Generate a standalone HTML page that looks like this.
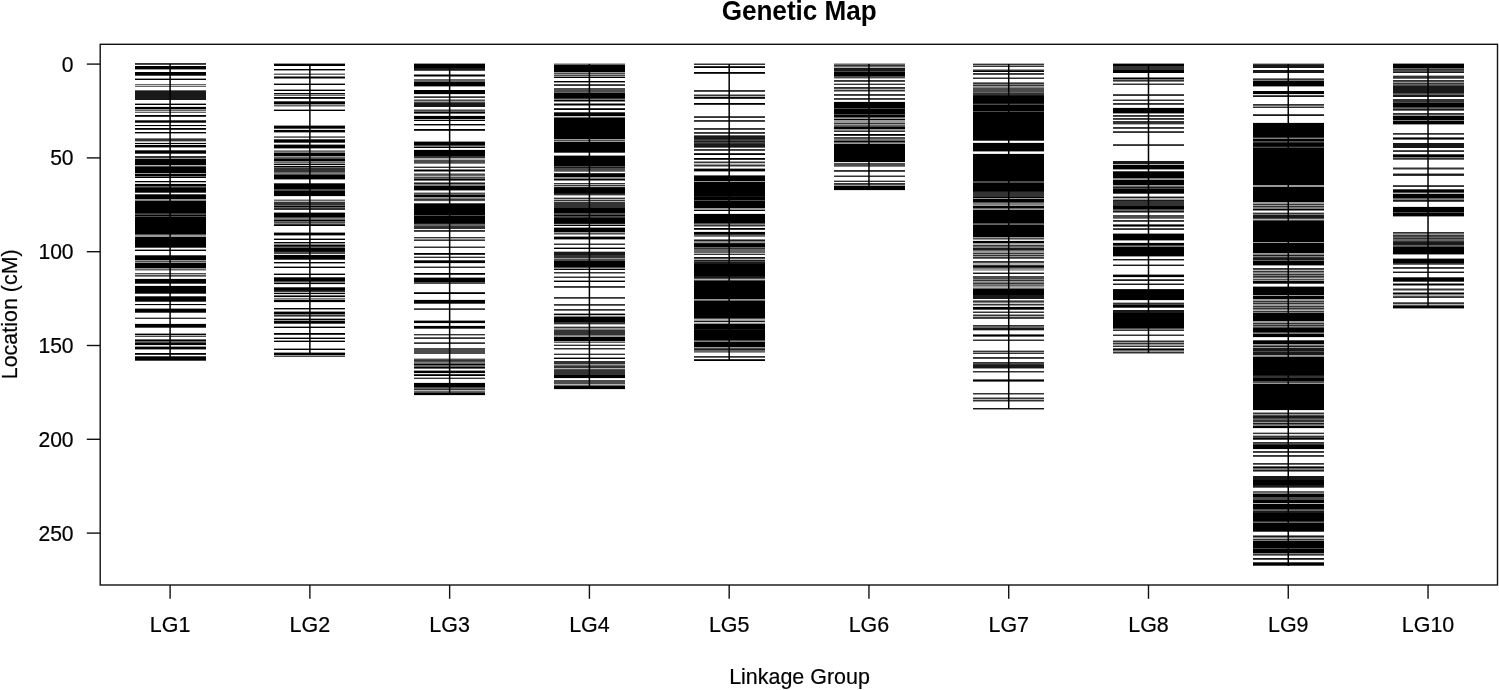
<!DOCTYPE html>
<html><head><meta charset="utf-8"><title>Genetic Map</title>
<style>
html,body{margin:0;padding:0;background:#fff;}
body{width:1499px;height:690px;position:relative;overflow:hidden;font-family:"Liberation Sans",sans-serif;}
.t{font-family:"Liberation Sans",sans-serif;font-size:21.45px;fill:#000;stroke:#000;stroke-width:.2px;}
.y{font-size:21.1px;}
.h{font-family:"Liberation Sans",sans-serif;font-size:26.1px;font-weight:bold;fill:#000;}
</style></head><body>
<svg width="1499" height="690" viewBox="0 0 1499 690" style="position:absolute;left:0;top:0">
<rect width="100%" height="100%" fill="#fff"/>
<rect x="100.2" y="44.3" width="1397.3" height="540.7" fill="none" stroke="#111" stroke-width="1.4"/>
<line x1="86.8" y1="64.10" x2="100" y2="64.10" stroke="#111" stroke-width="1.4"/>
<text transform="translate(73.60,71.60) scale(1,1.05)" text-anchor="end" class="t y">0</text>
<line x1="86.8" y1="157.90" x2="100" y2="157.90" stroke="#111" stroke-width="1.4"/>
<text transform="translate(73.60,165.40) scale(1,1.05)" text-anchor="end" class="t y">50</text>
<line x1="86.8" y1="251.70" x2="100" y2="251.70" stroke="#111" stroke-width="1.4"/>
<text transform="translate(73.60,259.20) scale(1,1.05)" text-anchor="end" class="t y">100</text>
<line x1="86.8" y1="345.50" x2="100" y2="345.50" stroke="#111" stroke-width="1.4"/>
<text transform="translate(73.60,353.00) scale(1,1.05)" text-anchor="end" class="t y">150</text>
<line x1="86.8" y1="439.30" x2="100" y2="439.30" stroke="#111" stroke-width="1.4"/>
<text transform="translate(73.60,446.80) scale(1,1.05)" text-anchor="end" class="t y">200</text>
<line x1="86.8" y1="533.10" x2="100" y2="533.10" stroke="#111" stroke-width="1.4"/>
<text transform="translate(73.60,540.60) scale(1,1.05)" text-anchor="end" class="t y">250</text>
<line x1="170.10" y1="585" x2="170.10" y2="598.8" stroke="#111" stroke-width="1.4"/>
<text transform="translate(170.10,632.30) scale(1,1.05)" text-anchor="middle" class="t">LG1</text>
<line x1="309.87" y1="585" x2="309.87" y2="598.8" stroke="#111" stroke-width="1.4"/>
<text transform="translate(309.87,632.30) scale(1,1.05)" text-anchor="middle" class="t">LG2</text>
<line x1="449.64" y1="585" x2="449.64" y2="598.8" stroke="#111" stroke-width="1.4"/>
<text transform="translate(449.64,632.30) scale(1,1.05)" text-anchor="middle" class="t">LG3</text>
<line x1="589.41" y1="585" x2="589.41" y2="598.8" stroke="#111" stroke-width="1.4"/>
<text transform="translate(589.41,632.30) scale(1,1.05)" text-anchor="middle" class="t">LG4</text>
<line x1="729.18" y1="585" x2="729.18" y2="598.8" stroke="#111" stroke-width="1.4"/>
<text transform="translate(729.18,632.30) scale(1,1.05)" text-anchor="middle" class="t">LG5</text>
<line x1="868.95" y1="585" x2="868.95" y2="598.8" stroke="#111" stroke-width="1.4"/>
<text transform="translate(868.95,632.30) scale(1,1.05)" text-anchor="middle" class="t">LG6</text>
<line x1="1008.72" y1="585" x2="1008.72" y2="598.8" stroke="#111" stroke-width="1.4"/>
<text transform="translate(1008.72,632.30) scale(1,1.05)" text-anchor="middle" class="t">LG7</text>
<line x1="1148.49" y1="585" x2="1148.49" y2="598.8" stroke="#111" stroke-width="1.4"/>
<text transform="translate(1148.49,632.30) scale(1,1.05)" text-anchor="middle" class="t">LG8</text>
<line x1="1288.26" y1="585" x2="1288.26" y2="598.8" stroke="#111" stroke-width="1.4"/>
<text transform="translate(1288.26,632.30) scale(1,1.05)" text-anchor="middle" class="t">LG9</text>
<line x1="1428.03" y1="585" x2="1428.03" y2="598.8" stroke="#111" stroke-width="1.4"/>
<text transform="translate(1428.03,632.30) scale(1,1.05)" text-anchor="middle" class="t">LG10</text>
<text transform="translate(799.50,684.10) scale(1,1.05)" text-anchor="middle" class="t">Linkage Group</text>
<text transform="translate(16.50,314.30) rotate(-90) scale(1,1.05)" text-anchor="middle" class="t">Location (cM)</text>
<text transform="translate(799.20,20.30) scale(1,1.05)" text-anchor="middle" class="h">Genetic Map</text>
<line x1="170.10" y1="64.00" x2="170.10" y2="360.00" stroke="#000" stroke-width="1.5"/>
<line x1="309.87" y1="64.00" x2="309.87" y2="355.00" stroke="#000" stroke-width="1.5"/>
<line x1="449.64" y1="64.00" x2="449.64" y2="394.00" stroke="#000" stroke-width="1.5"/>
<line x1="589.41" y1="64.00" x2="589.41" y2="388.00" stroke="#000" stroke-width="1.5"/>
<line x1="729.18" y1="64.00" x2="729.18" y2="360.00" stroke="#000" stroke-width="1.5"/>
<line x1="868.95" y1="64.00" x2="868.95" y2="189.00" stroke="#000" stroke-width="1.5"/>
<line x1="1008.72" y1="64.00" x2="1008.72" y2="409.00" stroke="#000" stroke-width="1.5"/>
<line x1="1148.49" y1="64.00" x2="1148.49" y2="353.00" stroke="#000" stroke-width="1.5"/>
<line x1="1288.26" y1="64.00" x2="1288.26" y2="566.00" stroke="#000" stroke-width="1.5"/>
<line x1="1428.03" y1="64.00" x2="1428.03" y2="307.00" stroke="#000" stroke-width="1.5"/>
<path d="M134.6 106.5h71.0M134.6 126.5h71.0M134.6 142.5h71.0M134.6 144.5h71.0M134.6 183.5h71.0M134.6 278.5h71.0M134.6 285.5h71.0M134.6 305.5h71.0M134.6 323.5h71.0M134.6 345.5h71.0" stroke="#000" stroke-opacity="0.1" stroke-width="1" fill="none" shape-rendering="crispEdges"/>
<path d="M134.6 85.5h71.0M134.6 111.5h71.0" stroke="#000" stroke-opacity="0.2" stroke-width="1" fill="none" shape-rendering="crispEdges"/>
<path d="M134.6 141.5h71.0M134.6 165.5h71.0M134.6 182.5h71.0M134.6 270.5h71.0M134.6 274.5h71.0M134.6 317.5h71.0M134.6 335.5h71.0" stroke="#000" stroke-opacity="0.3" stroke-width="1" fill="none" shape-rendering="crispEdges"/>
<path d="M134.6 69.5h71.0M134.6 78.5h71.0M134.6 103.5h71.0M134.6 109.5h71.0M134.6 133.5h71.0M134.6 147.5h71.0M134.6 158.5h71.0M134.6 173.5h71.0M134.6 199.5h71.0M134.6 235.5h71.0M134.6 236.5h71.0M134.6 249.5h71.0M134.6 260.5h71.0M134.6 262.5h71.0M134.6 268.5h71.0M134.6 308.5h71.0M134.6 333.5h71.0M134.6 346.5h71.0M134.6 349.5h71.0" stroke="#000" stroke-opacity="0.4" stroke-width="1" fill="none" shape-rendering="crispEdges"/>
<path d="M134.6 138.5h71.0M134.6 200.5h71.0M134.6 276.5h71.0" stroke="#000" stroke-opacity="0.5" stroke-width="1" fill="none" shape-rendering="crispEdges"/>
<path d="M134.6 84.5h71.0M134.6 86.5h71.0M134.6 90.5h71.0M134.6 110.5h71.0M134.6 112.5h71.0M134.6 176.5h71.0M134.6 186.5h71.0M134.6 269.5h71.0M134.6 339.5h71.0M134.6 341.5h71.0" stroke="#000" stroke-opacity="0.6" stroke-width="1" fill="none" shape-rendering="crispEdges"/>
<path d="M134.6 64.5h71.0M134.6 75.5h71.0M134.6 120.5h71.0M134.6 122.5h71.0M134.6 150.5h71.0M134.6 153.5h71.0M134.6 166.5h71.0M134.6 192.5h71.0M134.6 194.5h71.0M134.6 214.5h71.0M134.6 216.5h71.0M134.6 234.5h71.0M134.6 247.5h71.0M134.6 255.5h71.0M134.6 261.5h71.0M134.6 273.5h71.0M134.6 275.5h71.0M134.6 283.5h71.0M134.6 293.5h71.0M134.6 296.5h71.0M134.6 301.5h71.0M134.6 312.5h71.0M134.6 327.5h71.0M134.6 336.5h71.0M134.6 342.5h71.0M134.6 356.5h71.0M134.6 360.5h71.0" stroke="#000" stroke-opacity="0.7" stroke-width="1" fill="none" shape-rendering="crispEdges"/>
<path d="M134.6 63.5h71.0M134.6 116.5h71.0M134.6 129.5h71.0M134.6 139.5h71.0M134.6 140.5h71.0M134.6 156.5h71.0M134.6 157.5h71.0M134.6 187.5h71.0M134.6 213.5h71.0M134.6 318.5h71.0M134.6 354.5h71.0" stroke="#000" stroke-opacity="0.8" stroke-width="1" fill="none" shape-rendering="crispEdges"/>
<path d="M134.6 91.5h71.0M134.6 92.5h71.0M134.6 93.5h71.0M134.6 94.5h71.0M134.6 95.5h71.0M134.6 96.5h71.0M134.6 97.5h71.0M134.6 98.5h71.0M134.6 99.5h71.0" stroke="#000" stroke-opacity="0.9" stroke-width="1" fill="none" shape-rendering="crispEdges"/>
<path d="M134.6 66.5h71.0M134.6 67.5h71.0M134.6 68.5h71.0M134.6 72.5h71.0M134.6 73.5h71.0M134.6 74.5h71.0M134.6 79.5h71.0M134.6 104.5h71.0M134.6 107.5h71.0M134.6 108.5h71.0M134.6 115.5h71.0M134.6 121.5h71.0M134.6 125.5h71.0M134.6 128.5h71.0M134.6 132.5h71.0M134.6 143.5h71.0M134.6 145.5h71.0M134.6 146.5h71.0M134.6 151.5h71.0M134.6 152.5h71.0M134.6 159.5h71.0M134.6 160.5h71.0M134.6 161.5h71.0M134.6 162.5h71.0M134.6 163.5h71.0M134.6 164.5h71.0M134.6 167.5h71.0M134.6 168.5h71.0M134.6 169.5h71.0M134.6 170.5h71.0M134.6 171.5h71.0M134.6 172.5h71.0M134.6 174.5h71.0M134.6 175.5h71.0M134.6 177.5h71.0M134.6 181.5h71.0M134.6 184.5h71.0M134.6 185.5h71.0M134.6 188.5h71.0M134.6 189.5h71.0M134.6 190.5h71.0M134.6 191.5h71.0M134.6 195.5h71.0M134.6 196.5h71.0M134.6 197.5h71.0M134.6 198.5h71.0M134.6 201.5h71.0M134.6 202.5h71.0M134.6 203.5h71.0M134.6 204.5h71.0M134.6 205.5h71.0M134.6 206.5h71.0M134.6 207.5h71.0M134.6 208.5h71.0M134.6 209.5h71.0M134.6 210.5h71.0M134.6 211.5h71.0M134.6 212.5h71.0M134.6 215.5h71.0M134.6 217.5h71.0M134.6 218.5h71.0M134.6 219.5h71.0M134.6 220.5h71.0M134.6 221.5h71.0M134.6 222.5h71.0M134.6 223.5h71.0M134.6 224.5h71.0M134.6 225.5h71.0M134.6 226.5h71.0M134.6 227.5h71.0M134.6 228.5h71.0M134.6 229.5h71.0M134.6 230.5h71.0M134.6 231.5h71.0M134.6 232.5h71.0M134.6 233.5h71.0M134.6 237.5h71.0M134.6 238.5h71.0M134.6 239.5h71.0M134.6 240.5h71.0M134.6 241.5h71.0M134.6 242.5h71.0M134.6 243.5h71.0M134.6 244.5h71.0M134.6 245.5h71.0M134.6 246.5h71.0M134.6 250.5h71.0M134.6 256.5h71.0M134.6 257.5h71.0M134.6 258.5h71.0M134.6 259.5h71.0M134.6 263.5h71.0M134.6 264.5h71.0M134.6 265.5h71.0M134.6 266.5h71.0M134.6 267.5h71.0M134.6 279.5h71.0M134.6 280.5h71.0M134.6 281.5h71.0M134.6 282.5h71.0M134.6 286.5h71.0M134.6 287.5h71.0M134.6 288.5h71.0M134.6 289.5h71.0M134.6 290.5h71.0M134.6 291.5h71.0M134.6 292.5h71.0M134.6 297.5h71.0M134.6 298.5h71.0M134.6 299.5h71.0M134.6 300.5h71.0M134.6 304.5h71.0M134.6 309.5h71.0M134.6 310.5h71.0M134.6 311.5h71.0M134.6 324.5h71.0M134.6 325.5h71.0M134.6 326.5h71.0M134.6 334.5h71.0M134.6 340.5h71.0M134.6 343.5h71.0M134.6 344.5h71.0M134.6 347.5h71.0M134.6 348.5h71.0M134.6 353.5h71.0M134.6 357.5h71.0M134.6 358.5h71.0M134.6 359.5h71.0" stroke="#000" stroke-opacity="1.0" stroke-width="1" fill="none" shape-rendering="crispEdges"/>
<path d="M274.4 129.5h71.0M274.4 165.5h71.0M274.4 196.5h71.0M274.4 254.5h71.0M274.4 284.5h71.0M274.4 294.5h71.0M274.4 297.5h71.0M274.4 302.5h71.0" stroke="#000" stroke-opacity="0.1" stroke-width="1" fill="none" shape-rendering="crispEdges"/>
<path d="M274.4 73.5h71.0M274.4 106.5h71.0M274.4 199.5h71.0M274.4 201.5h71.0M274.4 292.5h71.0" stroke="#000" stroke-opacity="0.3" stroke-width="1" fill="none" shape-rendering="crispEdges"/>
<path d="M274.4 63.5h71.0M274.4 70.5h71.0M274.4 83.5h71.0M274.4 89.5h71.0M274.4 94.5h71.0M274.4 104.5h71.0M274.4 109.5h71.0M274.4 125.5h71.0M274.4 132.5h71.0M274.4 144.5h71.0M274.4 148.5h71.0M274.4 150.5h71.0M274.4 156.5h71.0M274.4 163.5h71.0M274.4 179.5h71.0M274.4 212.5h71.0M274.4 232.5h71.0M274.4 235.5h71.0M274.4 238.5h71.0M274.4 243.5h71.0M274.4 263.5h71.0M274.4 266.5h71.0M274.4 273.5h71.0M274.4 299.5h71.0M274.4 309.5h71.0M274.4 311.5h71.0M274.4 318.5h71.0M274.4 320.5h71.0M274.4 326.5h71.0M274.4 337.5h71.0M274.4 340.5h71.0M274.4 348.5h71.0M274.4 352.5h71.0M274.4 355.5h71.0" stroke="#000" stroke-opacity="0.4" stroke-width="1" fill="none" shape-rendering="crispEdges"/>
<path d="M274.4 76.5h71.0M274.4 78.5h71.0M274.4 136.5h71.0M274.4 152.5h71.0M274.4 161.5h71.0M274.4 173.5h71.0M274.4 218.5h71.0M274.4 223.5h71.0M274.4 244.5h71.0M274.4 282.5h71.0M274.4 298.5h71.0M274.4 314.5h71.0M274.4 316.5h71.0" stroke="#000" stroke-opacity="0.5" stroke-width="1" fill="none" shape-rendering="crispEdges"/>
<path d="M274.4 74.5h71.0M274.4 95.5h71.0M274.4 105.5h71.0M274.4 137.5h71.0M274.4 151.5h71.0M274.4 157.5h71.0M274.4 162.5h71.0M274.4 167.5h71.0M274.4 172.5h71.0M274.4 200.5h71.0M274.4 205.5h71.0M274.4 207.5h71.0M274.4 219.5h71.0M274.4 221.5h71.0M274.4 247.5h71.0M274.4 295.5h71.0" stroke="#000" stroke-opacity="0.6" stroke-width="1" fill="none" shape-rendering="crispEdges"/>
<path d="M274.4 101.5h71.0M274.4 128.5h71.0M274.4 139.5h71.0M274.4 142.5h71.0M274.4 158.5h71.0M274.4 174.5h71.0M274.4 183.5h71.0M274.4 189.5h71.0M274.4 190.5h71.0M274.4 217.5h71.0M274.4 222.5h71.0M274.4 252.5h71.0M274.4 253.5h71.0M274.4 259.5h71.0M274.4 277.5h71.0M274.4 281.5h71.0M274.4 287.5h71.0M274.4 323.5h71.0M274.4 356.5h71.0" stroke="#000" stroke-opacity="0.7" stroke-width="1" fill="none" shape-rendering="crispEdges"/>
<path d="M274.4 98.5h71.0M274.4 168.5h71.0M274.4 169.5h71.0M274.4 170.5h71.0M274.4 171.5h71.0M274.4 202.5h71.0M274.4 203.5h71.0M274.4 204.5h71.0M274.4 208.5h71.0M274.4 209.5h71.0M274.4 224.5h71.0M274.4 246.5h71.0M274.4 291.5h71.0M274.4 315.5h71.0M274.4 334.5h71.0" stroke="#000" stroke-opacity="0.8" stroke-width="1" fill="none" shape-rendering="crispEdges"/>
<path d="M274.4 251.5h71.0M274.4 290.5h71.0" stroke="#000" stroke-opacity="0.9" stroke-width="1" fill="none" shape-rendering="crispEdges"/>
<path d="M274.4 64.5h71.0M274.4 65.5h71.0M274.4 69.5h71.0M274.4 77.5h71.0M274.4 84.5h71.0M274.4 90.5h71.0M274.4 93.5h71.0M274.4 97.5h71.0M274.4 102.5h71.0M274.4 103.5h71.0M274.4 110.5h71.0M274.4 126.5h71.0M274.4 127.5h71.0M274.4 130.5h71.0M274.4 131.5h71.0M274.4 140.5h71.0M274.4 141.5h71.0M274.4 145.5h71.0M274.4 146.5h71.0M274.4 147.5h71.0M274.4 153.5h71.0M274.4 154.5h71.0M274.4 155.5h71.0M274.4 159.5h71.0M274.4 160.5h71.0M274.4 164.5h71.0M274.4 166.5h71.0M274.4 175.5h71.0M274.4 176.5h71.0M274.4 177.5h71.0M274.4 178.5h71.0M274.4 184.5h71.0M274.4 185.5h71.0M274.4 186.5h71.0M274.4 187.5h71.0M274.4 188.5h71.0M274.4 191.5h71.0M274.4 192.5h71.0M274.4 193.5h71.0M274.4 194.5h71.0M274.4 195.5h71.0M274.4 206.5h71.0M274.4 213.5h71.0M274.4 214.5h71.0M274.4 215.5h71.0M274.4 216.5h71.0M274.4 220.5h71.0M274.4 225.5h71.0M274.4 233.5h71.0M274.4 234.5h71.0M274.4 239.5h71.0M274.4 242.5h71.0M274.4 245.5h71.0M274.4 248.5h71.0M274.4 249.5h71.0M274.4 250.5h71.0M274.4 255.5h71.0M274.4 256.5h71.0M274.4 257.5h71.0M274.4 258.5h71.0M274.4 262.5h71.0M274.4 267.5h71.0M274.4 274.5h71.0M274.4 278.5h71.0M274.4 279.5h71.0M274.4 280.5h71.0M274.4 283.5h71.0M274.4 288.5h71.0M274.4 289.5h71.0M274.4 293.5h71.0M274.4 296.5h71.0M274.4 300.5h71.0M274.4 301.5h71.0M274.4 308.5h71.0M274.4 312.5h71.0M274.4 313.5h71.0M274.4 319.5h71.0M274.4 321.5h71.0M274.4 322.5h71.0M274.4 327.5h71.0M274.4 333.5h71.0M274.4 338.5h71.0M274.4 341.5h71.0M274.4 349.5h71.0M274.4 353.5h71.0M274.4 354.5h71.0" stroke="#000" stroke-opacity="1.0" stroke-width="1" fill="none" shape-rendering="crispEdges"/>
<path d="M414.1 94.5h71.0M414.1 115.5h71.0M414.1 149.5h71.0M414.1 201.5h71.0M414.1 263.5h71.0M414.1 299.5h71.0M414.1 323.5h71.0M414.1 325.5h71.0M414.1 373.5h71.0M414.1 382.5h71.0M414.1 395.5h71.0" stroke="#000" stroke-opacity="0.1" stroke-width="1" fill="none" shape-rendering="crispEdges"/>
<path d="M414.1 119.5h71.0M414.1 158.5h71.0M414.1 159.5h71.0M414.1 166.5h71.0M414.1 176.5h71.0M414.1 192.5h71.0M414.1 238.5h71.0M414.1 256.5h71.0M414.1 335.5h71.0M414.1 358.5h71.0M414.1 377.5h71.0M414.1 390.5h71.0" stroke="#000" stroke-opacity="0.3" stroke-width="1" fill="none" shape-rendering="crispEdges"/>
<path d="M414.1 63.5h71.0M414.1 86.5h71.0M414.1 99.5h71.0M414.1 101.5h71.0M414.1 109.5h71.0M414.1 125.5h71.0M414.1 141.5h71.0M414.1 173.5h71.0M414.1 190.5h71.0M414.1 197.5h71.0M414.1 246.5h71.0M414.1 266.5h71.0M414.1 277.5h71.0M414.1 320.5h71.0M414.1 370.5h71.0" stroke="#000" stroke-opacity="0.4" stroke-width="1" fill="none" shape-rendering="crispEdges"/>
<path d="M414.1 74.5h71.0M414.1 76.5h71.0M414.1 146.5h71.0M414.1 163.5h71.0M414.1 169.5h71.0M414.1 171.5h71.0M414.1 182.5h71.0M414.1 184.5h71.0M414.1 185.5h71.0M414.1 198.5h71.0M414.1 239.5h71.0M414.1 362.5h71.0" stroke="#000" stroke-opacity="0.5" stroke-width="1" fill="none" shape-rendering="crispEdges"/>
<path d="M414.1 79.5h71.0M414.1 80.5h71.0M414.1 81.5h71.0M414.1 96.5h71.0M414.1 111.5h71.0M414.1 113.5h71.0M414.1 175.5h71.0M414.1 178.5h71.0M414.1 180.5h71.0M414.1 194.5h71.0M414.1 224.5h71.0M414.1 225.5h71.0M414.1 308.5h71.0M414.1 337.5h71.0M414.1 342.5h71.0M414.1 363.5h71.0M414.1 365.5h71.0M414.1 366.5h71.0M414.1 368.5h71.0M414.1 388.5h71.0M414.1 391.5h71.0" stroke="#000" stroke-opacity="0.6" stroke-width="1" fill="none" shape-rendering="crispEdges"/>
<path d="M414.1 70.5h71.0M414.1 100.5h71.0M414.1 102.5h71.0M414.1 110.5h71.0M414.1 145.5h71.0M414.1 160.5h71.0M414.1 161.5h71.0M414.1 162.5h71.0M414.1 174.5h71.0M414.1 177.5h71.0M414.1 193.5h71.0M414.1 200.5h71.0M414.1 203.5h71.0M414.1 215.5h71.0M414.1 231.5h71.0M414.1 260.5h71.0M414.1 282.5h71.0M414.1 283.5h71.0M414.1 303.5h71.0M414.1 328.5h71.0M414.1 348.5h71.0M414.1 349.5h71.0M414.1 350.5h71.0M414.1 351.5h71.0M414.1 352.5h71.0M414.1 353.5h71.0M414.1 359.5h71.0M414.1 361.5h71.0M414.1 387.5h71.0M414.1 392.5h71.0" stroke="#000" stroke-opacity="0.7" stroke-width="1" fill="none" shape-rendering="crispEdges"/>
<path d="M414.1 97.5h71.0M414.1 130.5h71.0M414.1 156.5h71.0M414.1 157.5h71.0M414.1 167.5h71.0M414.1 199.5h71.0M414.1 226.5h71.0M414.1 227.5h71.0M414.1 228.5h71.0M414.1 230.5h71.0M414.1 237.5h71.0M414.1 240.5h71.0M414.1 247.5h71.0M414.1 254.5h71.0M414.1 257.5h71.0M414.1 267.5h71.0M414.1 274.5h71.0M414.1 292.5h71.0M414.1 309.5h71.0M414.1 334.5h71.0M414.1 338.5h71.0M414.1 343.5h71.0M414.1 360.5h71.0M414.1 374.5h71.0M414.1 378.5h71.0M414.1 389.5h71.0" stroke="#000" stroke-opacity="0.8" stroke-width="1" fill="none" shape-rendering="crispEdges"/>
<path d="M414.1 68.5h71.0M414.1 69.5h71.0M414.1 103.5h71.0M414.1 104.5h71.0M414.1 105.5h71.0M414.1 106.5h71.0M414.1 183.5h71.0M414.1 223.5h71.0" stroke="#000" stroke-opacity="0.9" stroke-width="1" fill="none" shape-rendering="crispEdges"/>
<path d="M414.1 64.5h71.0M414.1 65.5h71.0M414.1 66.5h71.0M414.1 67.5h71.0M414.1 75.5h71.0M414.1 82.5h71.0M414.1 83.5h71.0M414.1 84.5h71.0M414.1 85.5h71.0M414.1 90.5h71.0M414.1 91.5h71.0M414.1 92.5h71.0M414.1 93.5h71.0M414.1 112.5h71.0M414.1 116.5h71.0M414.1 117.5h71.0M414.1 118.5h71.0M414.1 120.5h71.0M414.1 124.5h71.0M414.1 129.5h71.0M414.1 142.5h71.0M414.1 143.5h71.0M414.1 144.5h71.0M414.1 147.5h71.0M414.1 150.5h71.0M414.1 151.5h71.0M414.1 152.5h71.0M414.1 153.5h71.0M414.1 154.5h71.0M414.1 155.5h71.0M414.1 170.5h71.0M414.1 179.5h71.0M414.1 186.5h71.0M414.1 187.5h71.0M414.1 188.5h71.0M414.1 189.5h71.0M414.1 195.5h71.0M414.1 196.5h71.0M414.1 204.5h71.0M414.1 205.5h71.0M414.1 206.5h71.0M414.1 207.5h71.0M414.1 208.5h71.0M414.1 209.5h71.0M414.1 210.5h71.0M414.1 211.5h71.0M414.1 212.5h71.0M414.1 213.5h71.0M414.1 214.5h71.0M414.1 216.5h71.0M414.1 217.5h71.0M414.1 218.5h71.0M414.1 219.5h71.0M414.1 220.5h71.0M414.1 221.5h71.0M414.1 222.5h71.0M414.1 253.5h71.0M414.1 261.5h71.0M414.1 262.5h71.0M414.1 273.5h71.0M414.1 278.5h71.0M414.1 279.5h71.0M414.1 280.5h71.0M414.1 281.5h71.0M414.1 293.5h71.0M414.1 300.5h71.0M414.1 301.5h71.0M414.1 302.5h71.0M414.1 321.5h71.0M414.1 322.5h71.0M414.1 326.5h71.0M414.1 327.5h71.0M414.1 364.5h71.0M414.1 367.5h71.0M414.1 371.5h71.0M414.1 372.5h71.0M414.1 375.5h71.0M414.1 383.5h71.0M414.1 384.5h71.0M414.1 385.5h71.0M414.1 386.5h71.0M414.1 393.5h71.0M414.1 394.5h71.0" stroke="#000" stroke-opacity="1.0" stroke-width="1" fill="none" shape-rendering="crispEdges"/>
<path d="M553.9 378.5h71.0M553.9 389.5h71.0" stroke="#000" stroke-opacity="0.1" stroke-width="1" fill="none" shape-rendering="crispEdges"/>
<path d="M553.9 116.5h71.0M553.9 315.5h71.0" stroke="#000" stroke-opacity="0.2" stroke-width="1" fill="none" shape-rendering="crispEdges"/>
<path d="M553.9 63.5h71.0M553.9 184.5h71.0M553.9 186.5h71.0M553.9 195.5h71.0M553.9 197.5h71.0M553.9 199.5h71.0M553.9 201.5h71.0M553.9 251.5h71.0M553.9 324.5h71.0M553.9 326.5h71.0M553.9 344.5h71.0M553.9 353.5h71.0M553.9 368.5h71.0M553.9 384.5h71.0" stroke="#000" stroke-opacity="0.3" stroke-width="1" fill="none" shape-rendering="crispEdges"/>
<path d="M553.9 72.5h71.0M553.9 74.5h71.0M553.9 76.5h71.0M553.9 82.5h71.0M553.9 139.5h71.0M553.9 141.5h71.0M553.9 155.5h71.0M553.9 177.5h71.0M553.9 224.5h71.0M553.9 227.5h71.0M553.9 232.5h71.0M553.9 234.5h71.0M553.9 236.5h71.0M553.9 239.5h71.0M553.9 243.5h71.0M553.9 247.5h71.0M553.9 258.5h71.0M553.9 268.5h71.0M553.9 273.5h71.0M553.9 276.5h71.0M553.9 280.5h71.0M553.9 313.5h71.0M553.9 328.5h71.0M553.9 336.5h71.0M553.9 341.5h71.0M553.9 349.5h71.0M553.9 357.5h71.0M553.9 364.5h71.0" stroke="#000" stroke-opacity="0.4" stroke-width="1" fill="none" shape-rendering="crispEdges"/>
<path d="M553.9 99.5h71.0M553.9 101.5h71.0M553.9 103.5h71.0M553.9 105.5h71.0M553.9 171.5h71.0M553.9 178.5h71.0M553.9 180.5h71.0M553.9 316.5h71.0M553.9 329.5h71.0M553.9 335.5h71.0" stroke="#000" stroke-opacity="0.5" stroke-width="1" fill="none" shape-rendering="crispEdges"/>
<path d="M553.9 64.5h71.0M553.9 92.5h71.0M553.9 117.5h71.0M553.9 298.5h71.0M553.9 305.5h71.0M553.9 310.5h71.0M553.9 342.5h71.0M553.9 365.5h71.0M553.9 385.5h71.0" stroke="#000" stroke-opacity="0.6" stroke-width="1" fill="none" shape-rendering="crispEdges"/>
<path d="M553.9 73.5h71.0M553.9 75.5h71.0M553.9 84.5h71.0M553.9 88.5h71.0M553.9 89.5h71.0M553.9 90.5h71.0M553.9 91.5h71.0M553.9 112.5h71.0M553.9 140.5h71.0M553.9 152.5h71.0M553.9 166.5h71.0M553.9 168.5h71.0M553.9 169.5h71.0M553.9 170.5h71.0M553.9 213.5h71.0M553.9 214.5h71.0M553.9 216.5h71.0M553.9 233.5h71.0M553.9 259.5h71.0M553.9 260.5h71.0M553.9 267.5h71.0M553.9 287.5h71.0M553.9 369.5h71.0M553.9 380.5h71.0M553.9 381.5h71.0M553.9 382.5h71.0M553.9 383.5h71.0" stroke="#000" stroke-opacity="0.7" stroke-width="1" fill="none" shape-rendering="crispEdges"/>
<path d="M553.9 85.5h71.0M553.9 98.5h71.0M553.9 108.5h71.0M553.9 173.5h71.0M553.9 183.5h71.0M553.9 185.5h71.0M553.9 194.5h71.0M553.9 198.5h71.0M553.9 200.5h71.0M553.9 202.5h71.0M553.9 203.5h71.0M553.9 204.5h71.0M553.9 205.5h71.0M553.9 206.5h71.0M553.9 207.5h71.0M553.9 217.5h71.0M553.9 244.5h71.0M553.9 255.5h71.0M553.9 256.5h71.0M553.9 257.5h71.0M553.9 272.5h71.0M553.9 277.5h71.0M553.9 286.5h71.0M553.9 297.5h71.0M553.9 304.5h71.0M553.9 309.5h71.0M553.9 322.5h71.0M553.9 323.5h71.0M553.9 327.5h71.0M553.9 330.5h71.0M553.9 331.5h71.0M553.9 332.5h71.0M553.9 333.5h71.0M553.9 334.5h71.0M553.9 345.5h71.0M553.9 348.5h71.0M553.9 354.5h71.0M553.9 361.5h71.0M553.9 362.5h71.0M553.9 363.5h71.0M553.9 366.5h71.0M553.9 367.5h71.0M553.9 370.5h71.0M553.9 371.5h71.0M553.9 372.5h71.0M553.9 373.5h71.0M553.9 374.5h71.0" stroke="#000" stroke-opacity="0.8" stroke-width="1" fill="none" shape-rendering="crispEdges"/>
<path d="M553.9 167.5h71.0M553.9 187.5h71.0M553.9 193.5h71.0M553.9 223.5h71.0M553.9 252.5h71.0M553.9 253.5h71.0M553.9 254.5h71.0" stroke="#000" stroke-opacity="0.9" stroke-width="1" fill="none" shape-rendering="crispEdges"/>
<path d="M553.9 65.5h71.0M553.9 66.5h71.0M553.9 67.5h71.0M553.9 68.5h71.0M553.9 69.5h71.0M553.9 70.5h71.0M553.9 71.5h71.0M553.9 77.5h71.0M553.9 81.5h71.0M553.9 93.5h71.0M553.9 94.5h71.0M553.9 95.5h71.0M553.9 96.5h71.0M553.9 97.5h71.0M553.9 100.5h71.0M553.9 104.5h71.0M553.9 109.5h71.0M553.9 113.5h71.0M553.9 114.5h71.0M553.9 115.5h71.0M553.9 118.5h71.0M553.9 119.5h71.0M553.9 120.5h71.0M553.9 121.5h71.0M553.9 122.5h71.0M553.9 123.5h71.0M553.9 124.5h71.0M553.9 125.5h71.0M553.9 126.5h71.0M553.9 127.5h71.0M553.9 128.5h71.0M553.9 129.5h71.0M553.9 130.5h71.0M553.9 131.5h71.0M553.9 132.5h71.0M553.9 133.5h71.0M553.9 134.5h71.0M553.9 135.5h71.0M553.9 136.5h71.0M553.9 137.5h71.0M553.9 138.5h71.0M553.9 142.5h71.0M553.9 143.5h71.0M553.9 144.5h71.0M553.9 145.5h71.0M553.9 146.5h71.0M553.9 147.5h71.0M553.9 148.5h71.0M553.9 149.5h71.0M553.9 150.5h71.0M553.9 151.5h71.0M553.9 156.5h71.0M553.9 157.5h71.0M553.9 158.5h71.0M553.9 159.5h71.0M553.9 160.5h71.0M553.9 161.5h71.0M553.9 162.5h71.0M553.9 163.5h71.0M553.9 164.5h71.0M553.9 165.5h71.0M553.9 174.5h71.0M553.9 175.5h71.0M553.9 176.5h71.0M553.9 179.5h71.0M553.9 188.5h71.0M553.9 189.5h71.0M553.9 190.5h71.0M553.9 191.5h71.0M553.9 192.5h71.0M553.9 208.5h71.0M553.9 209.5h71.0M553.9 210.5h71.0M553.9 211.5h71.0M553.9 212.5h71.0M553.9 215.5h71.0M553.9 218.5h71.0M553.9 219.5h71.0M553.9 220.5h71.0M553.9 221.5h71.0M553.9 222.5h71.0M553.9 225.5h71.0M553.9 228.5h71.0M553.9 229.5h71.0M553.9 230.5h71.0M553.9 231.5h71.0M553.9 237.5h71.0M553.9 238.5h71.0M553.9 248.5h71.0M553.9 261.5h71.0M553.9 262.5h71.0M553.9 263.5h71.0M553.9 264.5h71.0M553.9 265.5h71.0M553.9 266.5h71.0M553.9 269.5h71.0M553.9 281.5h71.0M553.9 314.5h71.0M553.9 317.5h71.0M553.9 318.5h71.0M553.9 319.5h71.0M553.9 320.5h71.0M553.9 321.5h71.0M553.9 337.5h71.0M553.9 338.5h71.0M553.9 339.5h71.0M553.9 340.5h71.0M553.9 358.5h71.0M553.9 375.5h71.0M553.9 376.5h71.0M553.9 377.5h71.0M553.9 386.5h71.0M553.9 387.5h71.0M553.9 388.5h71.0" stroke="#000" stroke-opacity="1.0" stroke-width="1" fill="none" shape-rendering="crispEdges"/>
<path d="M693.7 213.5h71.0M693.7 231.5h71.0" stroke="#000" stroke-opacity="0.1" stroke-width="1" fill="none" shape-rendering="crispEdges"/>
<path d="M693.7 163.5h71.0M693.7 322.5h71.0" stroke="#000" stroke-opacity="0.2" stroke-width="1" fill="none" shape-rendering="crispEdges"/>
<path d="M693.7 96.5h71.0M693.7 253.5h71.0M693.7 259.5h71.0M693.7 279.5h71.0M693.7 319.5h71.0" stroke="#000" stroke-opacity="0.3" stroke-width="1" fill="none" shape-rendering="crispEdges"/>
<path d="M693.7 63.5h71.0M693.7 94.5h71.0M693.7 161.5h71.0M693.7 164.5h71.0M693.7 166.5h71.0M693.7 168.5h71.0M693.7 171.5h71.0M693.7 181.5h71.0M693.7 208.5h71.0M693.7 209.5h71.0M693.7 226.5h71.0M693.7 242.5h71.0M693.7 299.5h71.0M693.7 320.5h71.0M693.7 323.5h71.0M693.7 347.5h71.0M693.7 352.5h71.0" stroke="#000" stroke-opacity="0.4" stroke-width="1" fill="none" shape-rendering="crispEdges"/>
<path d="M693.7 224.5h71.0M693.7 236.5h71.0M693.7 239.5h71.0M693.7 241.5h71.0M693.7 341.5h71.0" stroke="#000" stroke-opacity="0.5" stroke-width="1" fill="none" shape-rendering="crispEdges"/>
<path d="M693.7 135.5h71.0M693.7 147.5h71.0M693.7 175.5h71.0M693.7 235.5h71.0M693.7 247.5h71.0M693.7 249.5h71.0M693.7 250.5h71.0M693.7 251.5h71.0M693.7 252.5h71.0M693.7 300.5h71.0M693.7 350.5h71.0M693.7 351.5h71.0M693.7 357.5h71.0" stroke="#000" stroke-opacity="0.6" stroke-width="1" fill="none" shape-rendering="crispEdges"/>
<path d="M693.7 91.5h71.0M693.7 116.5h71.0M693.7 121.5h71.0M693.7 129.5h71.0M693.7 133.5h71.0M693.7 140.5h71.0M693.7 142.5h71.0M693.7 150.5h71.0M693.7 200.5h71.0M693.7 223.5h71.0M693.7 258.5h71.0M693.7 261.5h71.0M693.7 278.5h71.0M693.7 280.5h71.0M693.7 318.5h71.0M693.7 340.5h71.0M693.7 348.5h71.0" stroke="#000" stroke-opacity="0.7" stroke-width="1" fill="none" shape-rendering="crispEdges"/>
<path d="M693.7 64.5h71.0M693.7 66.5h71.0M693.7 73.5h71.0M693.7 90.5h71.0M693.7 95.5h71.0M693.7 98.5h71.0M693.7 104.5h71.0M693.7 117.5h71.0M693.7 120.5h71.0M693.7 128.5h71.0M693.7 132.5h71.0M693.7 139.5h71.0M693.7 143.5h71.0M693.7 149.5h71.0M693.7 153.5h71.0M693.7 159.5h71.0M693.7 162.5h71.0M693.7 165.5h71.0M693.7 225.5h71.0M693.7 229.5h71.0M693.7 234.5h71.0M693.7 248.5h71.0M693.7 254.5h71.0M693.7 356.5h71.0M693.7 359.5h71.0" stroke="#000" stroke-opacity="0.8" stroke-width="1" fill="none" shape-rendering="crispEdges"/>
<path d="M693.7 136.5h71.0M693.7 137.5h71.0M693.7 138.5h71.0M693.7 141.5h71.0M693.7 144.5h71.0M693.7 145.5h71.0M693.7 146.5h71.0M693.7 196.5h71.0M693.7 240.5h71.0M693.7 243.5h71.0M693.7 257.5h71.0M693.7 260.5h71.0M693.7 262.5h71.0M693.7 263.5h71.0M693.7 276.5h71.0M693.7 277.5h71.0M693.7 321.5h71.0M693.7 329.5h71.0M693.7 349.5h71.0" stroke="#000" stroke-opacity="0.9" stroke-width="1" fill="none" shape-rendering="crispEdges"/>
<path d="M693.7 67.5h71.0M693.7 72.5h71.0M693.7 97.5h71.0M693.7 103.5h71.0M693.7 154.5h71.0M693.7 158.5h71.0M693.7 169.5h71.0M693.7 170.5h71.0M693.7 176.5h71.0M693.7 177.5h71.0M693.7 178.5h71.0M693.7 179.5h71.0M693.7 180.5h71.0M693.7 182.5h71.0M693.7 183.5h71.0M693.7 184.5h71.0M693.7 185.5h71.0M693.7 186.5h71.0M693.7 187.5h71.0M693.7 188.5h71.0M693.7 189.5h71.0M693.7 190.5h71.0M693.7 191.5h71.0M693.7 192.5h71.0M693.7 193.5h71.0M693.7 194.5h71.0M693.7 195.5h71.0M693.7 197.5h71.0M693.7 198.5h71.0M693.7 199.5h71.0M693.7 201.5h71.0M693.7 202.5h71.0M693.7 203.5h71.0M693.7 204.5h71.0M693.7 205.5h71.0M693.7 206.5h71.0M693.7 207.5h71.0M693.7 210.5h71.0M693.7 214.5h71.0M693.7 215.5h71.0M693.7 216.5h71.0M693.7 217.5h71.0M693.7 218.5h71.0M693.7 219.5h71.0M693.7 220.5h71.0M693.7 221.5h71.0M693.7 222.5h71.0M693.7 228.5h71.0M693.7 232.5h71.0M693.7 233.5h71.0M693.7 244.5h71.0M693.7 245.5h71.0M693.7 246.5h71.0M693.7 264.5h71.0M693.7 265.5h71.0M693.7 266.5h71.0M693.7 267.5h71.0M693.7 268.5h71.0M693.7 269.5h71.0M693.7 270.5h71.0M693.7 271.5h71.0M693.7 272.5h71.0M693.7 273.5h71.0M693.7 274.5h71.0M693.7 275.5h71.0M693.7 281.5h71.0M693.7 282.5h71.0M693.7 283.5h71.0M693.7 284.5h71.0M693.7 285.5h71.0M693.7 286.5h71.0M693.7 287.5h71.0M693.7 288.5h71.0M693.7 289.5h71.0M693.7 290.5h71.0M693.7 291.5h71.0M693.7 292.5h71.0M693.7 293.5h71.0M693.7 294.5h71.0M693.7 295.5h71.0M693.7 296.5h71.0M693.7 297.5h71.0M693.7 298.5h71.0M693.7 301.5h71.0M693.7 302.5h71.0M693.7 303.5h71.0M693.7 304.5h71.0M693.7 305.5h71.0M693.7 306.5h71.0M693.7 307.5h71.0M693.7 308.5h71.0M693.7 309.5h71.0M693.7 310.5h71.0M693.7 311.5h71.0M693.7 312.5h71.0M693.7 313.5h71.0M693.7 314.5h71.0M693.7 315.5h71.0M693.7 316.5h71.0M693.7 317.5h71.0M693.7 324.5h71.0M693.7 325.5h71.0M693.7 326.5h71.0M693.7 327.5h71.0M693.7 328.5h71.0M693.7 330.5h71.0M693.7 331.5h71.0M693.7 332.5h71.0M693.7 333.5h71.0M693.7 334.5h71.0M693.7 335.5h71.0M693.7 336.5h71.0M693.7 337.5h71.0M693.7 338.5h71.0M693.7 339.5h71.0M693.7 342.5h71.0M693.7 343.5h71.0M693.7 344.5h71.0M693.7 345.5h71.0M693.7 346.5h71.0M693.7 360.5h71.0" stroke="#000" stroke-opacity="1.0" stroke-width="1" fill="none" shape-rendering="crispEdges"/>
<path d="M833.5 101.5h71.0M833.5 162.5h71.0M833.5 190.5h71.0" stroke="#000" stroke-opacity="0.1" stroke-width="1" fill="none" shape-rendering="crispEdges"/>
<path d="M833.5 63.5h71.0M833.5 67.5h71.0M833.5 78.5h71.0M833.5 83.5h71.0M833.5 89.5h71.0M833.5 180.5h71.0" stroke="#000" stroke-opacity="0.3" stroke-width="1" fill="none" shape-rendering="crispEdges"/>
<path d="M833.5 91.5h71.0M833.5 118.5h71.0M833.5 120.5h71.0M833.5 121.5h71.0M833.5 122.5h71.0M833.5 124.5h71.0M833.5 129.5h71.0M833.5 143.5h71.0M833.5 175.5h71.0M833.5 185.5h71.0" stroke="#000" stroke-opacity="0.4" stroke-width="1" fill="none" shape-rendering="crispEdges"/>
<path d="M833.5 130.5h71.0M833.5 139.5h71.0M833.5 166.5h71.0" stroke="#000" stroke-opacity="0.5" stroke-width="1" fill="none" shape-rendering="crispEdges"/>
<path d="M833.5 64.5h71.0M833.5 66.5h71.0M833.5 117.5h71.0M833.5 125.5h71.0M833.5 140.5h71.0M833.5 142.5h71.0" stroke="#000" stroke-opacity="0.6" stroke-width="1" fill="none" shape-rendering="crispEdges"/>
<path d="M833.5 71.5h71.0M833.5 76.5h71.0M833.5 77.5h71.0M833.5 81.5h71.0M833.5 88.5h71.0M833.5 95.5h71.0M833.5 99.5h71.0M833.5 108.5h71.0M833.5 114.5h71.0M833.5 126.5h71.0M833.5 137.5h71.0M833.5 138.5h71.0M833.5 163.5h71.0M833.5 164.5h71.0M833.5 165.5h71.0M833.5 171.5h71.0M833.5 184.5h71.0" stroke="#000" stroke-opacity="0.7" stroke-width="1" fill="none" shape-rendering="crispEdges"/>
<path d="M833.5 65.5h71.0M833.5 80.5h71.0M833.5 84.5h71.0M833.5 87.5h71.0M833.5 90.5h71.0M833.5 94.5h71.0M833.5 98.5h71.0M833.5 123.5h71.0M833.5 131.5h71.0M833.5 135.5h71.0M833.5 170.5h71.0M833.5 176.5h71.0M833.5 181.5h71.0M833.5 183.5h71.0" stroke="#000" stroke-opacity="0.8" stroke-width="1" fill="none" shape-rendering="crispEdges"/>
<path d="M833.5 68.5h71.0M833.5 69.5h71.0M833.5 70.5h71.0" stroke="#000" stroke-opacity="0.9" stroke-width="1" fill="none" shape-rendering="crispEdges"/>
<path d="M833.5 72.5h71.0M833.5 73.5h71.0M833.5 74.5h71.0M833.5 75.5h71.0M833.5 102.5h71.0M833.5 103.5h71.0M833.5 104.5h71.0M833.5 105.5h71.0M833.5 106.5h71.0M833.5 107.5h71.0M833.5 109.5h71.0M833.5 110.5h71.0M833.5 111.5h71.0M833.5 112.5h71.0M833.5 113.5h71.0M833.5 115.5h71.0M833.5 116.5h71.0M833.5 119.5h71.0M833.5 127.5h71.0M833.5 128.5h71.0M833.5 134.5h71.0M833.5 141.5h71.0M833.5 144.5h71.0M833.5 145.5h71.0M833.5 146.5h71.0M833.5 147.5h71.0M833.5 148.5h71.0M833.5 149.5h71.0M833.5 150.5h71.0M833.5 151.5h71.0M833.5 152.5h71.0M833.5 153.5h71.0M833.5 154.5h71.0M833.5 155.5h71.0M833.5 156.5h71.0M833.5 157.5h71.0M833.5 158.5h71.0M833.5 159.5h71.0M833.5 160.5h71.0M833.5 161.5h71.0M833.5 186.5h71.0M833.5 187.5h71.0M833.5 188.5h71.0M833.5 189.5h71.0" stroke="#000" stroke-opacity="1.0" stroke-width="1" fill="none" shape-rendering="crispEdges"/>
<path d="M973.2 142.5h71.0M973.2 153.5h71.0M973.2 240.5h71.0M973.2 306.5h71.0" stroke="#000" stroke-opacity="0.1" stroke-width="1" fill="none" shape-rendering="crispEdges"/>
<path d="M973.2 303.5h71.0" stroke="#000" stroke-opacity="0.2" stroke-width="1" fill="none" shape-rendering="crispEdges"/>
<path d="M973.2 63.5h71.0M973.2 244.5h71.0M973.2 263.5h71.0M973.2 264.5h71.0M973.2 270.5h71.0M973.2 287.5h71.0M973.2 316.5h71.0M973.2 330.5h71.0M973.2 350.5h71.0M973.2 399.5h71.0" stroke="#000" stroke-opacity="0.3" stroke-width="1" fill="none" shape-rendering="crispEdges"/>
<path d="M973.2 65.5h71.0M973.2 69.5h71.0M973.2 77.5h71.0M973.2 86.5h71.0M973.2 151.5h71.0M973.2 198.5h71.0M973.2 205.5h71.0M973.2 209.5h71.0M973.2 237.5h71.0M973.2 239.5h71.0M973.2 243.5h71.0M973.2 251.5h71.0M973.2 252.5h71.0M973.2 254.5h71.0M973.2 256.5h71.0M973.2 269.5h71.0M973.2 272.5h71.0M973.2 281.5h71.0M973.2 286.5h71.0M973.2 305.5h71.0M973.2 311.5h71.0M973.2 314.5h71.0M973.2 339.5h71.0M973.2 352.5h71.0M973.2 368.5h71.0M973.2 372.5h71.0M973.2 394.5h71.0M973.2 397.5h71.0M973.2 401.5h71.0M973.2 409.5h71.0" stroke="#000" stroke-opacity="0.4" stroke-width="1" fill="none" shape-rendering="crispEdges"/>
<path d="M973.2 82.5h71.0M973.2 84.5h71.0M973.2 87.5h71.0M973.2 203.5h71.0M973.2 204.5h71.0M973.2 247.5h71.0M973.2 268.5h71.0M973.2 279.5h71.0M973.2 282.5h71.0M973.2 284.5h71.0M973.2 300.5h71.0M973.2 302.5h71.0" stroke="#000" stroke-opacity="0.5" stroke-width="1" fill="none" shape-rendering="crispEdges"/>
<path d="M973.2 92.5h71.0M973.2 208.5h71.0M973.2 224.5h71.0M973.2 246.5h71.0M973.2 250.5h71.0M973.2 258.5h71.0M973.2 285.5h71.0M973.2 288.5h71.0M973.2 326.5h71.0M973.2 327.5h71.0M973.2 334.5h71.0M973.2 336.5h71.0M973.2 379.5h71.0M973.2 381.5h71.0" stroke="#000" stroke-opacity="0.6" stroke-width="1" fill="none" shape-rendering="crispEdges"/>
<path d="M973.2 74.5h71.0M973.2 88.5h71.0M973.2 89.5h71.0M973.2 90.5h71.0M973.2 91.5h71.0M973.2 104.5h71.0M973.2 111.5h71.0M973.2 140.5h71.0M973.2 181.5h71.0M973.2 182.5h71.0M973.2 202.5h71.0M973.2 223.5h71.0M973.2 238.5h71.0M973.2 262.5h71.0M973.2 276.5h71.0M973.2 277.5h71.0M973.2 278.5h71.0M973.2 309.5h71.0M973.2 318.5h71.0M973.2 358.5h71.0M973.2 363.5h71.0" stroke="#000" stroke-opacity="0.7" stroke-width="1" fill="none" shape-rendering="crispEdges"/>
<path d="M973.2 64.5h71.0M973.2 66.5h71.0M973.2 70.5h71.0M973.2 73.5h71.0M973.2 78.5h71.0M973.2 83.5h71.0M973.2 85.5h71.0M973.2 93.5h71.0M973.2 94.5h71.0M973.2 192.5h71.0M973.2 193.5h71.0M973.2 194.5h71.0M973.2 195.5h71.0M973.2 196.5h71.0M973.2 245.5h71.0M973.2 253.5h71.0M973.2 255.5h71.0M973.2 257.5h71.0M973.2 261.5h71.0M973.2 265.5h71.0M973.2 267.5h71.0M973.2 280.5h71.0M973.2 283.5h71.0M973.2 301.5h71.0M973.2 304.5h71.0M973.2 312.5h71.0M973.2 315.5h71.0M973.2 317.5h71.0M973.2 325.5h71.0M973.2 340.5h71.0M973.2 351.5h71.0M973.2 353.5h71.0M973.2 357.5h71.0M973.2 362.5h71.0M973.2 364.5h71.0M973.2 371.5h71.0M973.2 393.5h71.0M973.2 398.5h71.0M973.2 400.5h71.0" stroke="#000" stroke-opacity="0.8" stroke-width="1" fill="none" shape-rendering="crispEdges"/>
<path d="M973.2 95.5h71.0M973.2 103.5h71.0M973.2 191.5h71.0M973.2 248.5h71.0M973.2 249.5h71.0M973.2 273.5h71.0M973.2 295.5h71.0M973.2 296.5h71.0M973.2 297.5h71.0M973.2 298.5h71.0M973.2 328.5h71.0M973.2 329.5h71.0M973.2 365.5h71.0M973.2 366.5h71.0M973.2 367.5h71.0M973.2 408.5h71.0" stroke="#000" stroke-opacity="0.9" stroke-width="1" fill="none" shape-rendering="crispEdges"/>
<path d="M973.2 71.5h71.0M973.2 96.5h71.0M973.2 97.5h71.0M973.2 98.5h71.0M973.2 99.5h71.0M973.2 100.5h71.0M973.2 101.5h71.0M973.2 102.5h71.0M973.2 105.5h71.0M973.2 106.5h71.0M973.2 107.5h71.0M973.2 108.5h71.0M973.2 109.5h71.0M973.2 110.5h71.0M973.2 112.5h71.0M973.2 113.5h71.0M973.2 114.5h71.0M973.2 115.5h71.0M973.2 116.5h71.0M973.2 117.5h71.0M973.2 118.5h71.0M973.2 119.5h71.0M973.2 120.5h71.0M973.2 121.5h71.0M973.2 122.5h71.0M973.2 123.5h71.0M973.2 124.5h71.0M973.2 125.5h71.0M973.2 126.5h71.0M973.2 127.5h71.0M973.2 128.5h71.0M973.2 129.5h71.0M973.2 130.5h71.0M973.2 131.5h71.0M973.2 132.5h71.0M973.2 133.5h71.0M973.2 134.5h71.0M973.2 135.5h71.0M973.2 136.5h71.0M973.2 137.5h71.0M973.2 138.5h71.0M973.2 139.5h71.0M973.2 143.5h71.0M973.2 144.5h71.0M973.2 145.5h71.0M973.2 146.5h71.0M973.2 147.5h71.0M973.2 148.5h71.0M973.2 149.5h71.0M973.2 150.5h71.0M973.2 154.5h71.0M973.2 155.5h71.0M973.2 156.5h71.0M973.2 157.5h71.0M973.2 158.5h71.0M973.2 159.5h71.0M973.2 160.5h71.0M973.2 161.5h71.0M973.2 162.5h71.0M973.2 163.5h71.0M973.2 164.5h71.0M973.2 165.5h71.0M973.2 166.5h71.0M973.2 167.5h71.0M973.2 168.5h71.0M973.2 169.5h71.0M973.2 170.5h71.0M973.2 171.5h71.0M973.2 172.5h71.0M973.2 173.5h71.0M973.2 174.5h71.0M973.2 175.5h71.0M973.2 176.5h71.0M973.2 177.5h71.0M973.2 178.5h71.0M973.2 179.5h71.0M973.2 180.5h71.0M973.2 183.5h71.0M973.2 184.5h71.0M973.2 185.5h71.0M973.2 186.5h71.0M973.2 187.5h71.0M973.2 188.5h71.0M973.2 189.5h71.0M973.2 190.5h71.0M973.2 197.5h71.0M973.2 199.5h71.0M973.2 200.5h71.0M973.2 201.5h71.0M973.2 206.5h71.0M973.2 207.5h71.0M973.2 210.5h71.0M973.2 211.5h71.0M973.2 212.5h71.0M973.2 213.5h71.0M973.2 214.5h71.0M973.2 215.5h71.0M973.2 216.5h71.0M973.2 217.5h71.0M973.2 218.5h71.0M973.2 219.5h71.0M973.2 220.5h71.0M973.2 221.5h71.0M973.2 222.5h71.0M973.2 225.5h71.0M973.2 226.5h71.0M973.2 227.5h71.0M973.2 228.5h71.0M973.2 229.5h71.0M973.2 230.5h71.0M973.2 231.5h71.0M973.2 232.5h71.0M973.2 233.5h71.0M973.2 234.5h71.0M973.2 235.5h71.0M973.2 236.5h71.0M973.2 241.5h71.0M973.2 242.5h71.0M973.2 266.5h71.0M973.2 289.5h71.0M973.2 290.5h71.0M973.2 291.5h71.0M973.2 292.5h71.0M973.2 293.5h71.0M973.2 294.5h71.0M973.2 307.5h71.0M973.2 308.5h71.0M973.2 335.5h71.0M973.2 380.5h71.0" stroke="#000" stroke-opacity="1.0" stroke-width="1" fill="none" shape-rendering="crispEdges"/>
<path d="M1113.0 107.5h71.0M1113.0 242.5h71.0M1113.0 277.5h71.0M1113.0 300.5h71.0" stroke="#000" stroke-opacity="0.1" stroke-width="1" fill="none" shape-rendering="crispEdges"/>
<path d="M1113.0 124.5h71.0M1113.0 164.5h71.0M1113.0 198.5h71.0M1113.0 302.5h71.0" stroke="#000" stroke-opacity="0.3" stroke-width="1" fill="none" shape-rendering="crispEdges"/>
<path d="M1113.0 63.5h71.0M1113.0 83.5h71.0M1113.0 99.5h71.0M1113.0 113.5h71.0M1113.0 169.5h71.0M1113.0 179.5h71.0M1113.0 185.5h71.0M1113.0 196.5h71.0M1113.0 199.5h71.0M1113.0 233.5h71.0M1113.0 240.5h71.0M1113.0 256.5h71.0M1113.0 260.5h71.0M1113.0 264.5h71.0M1113.0 274.5h71.0M1113.0 283.5h71.0M1113.0 334.5h71.0M1113.0 340.5h71.0M1113.0 342.5h71.0M1113.0 344.5h71.0M1113.0 345.5h71.0M1113.0 351.5h71.0M1113.0 353.5h71.0" stroke="#000" stroke-opacity="0.4" stroke-width="1" fill="none" shape-rendering="crispEdges"/>
<path d="M1113.0 77.5h71.0M1113.0 79.5h71.0M1113.0 81.5h71.0M1113.0 178.5h71.0M1113.0 212.5h71.0M1113.0 218.5h71.0M1113.0 246.5h71.0M1113.0 329.5h71.0" stroke="#000" stroke-opacity="0.5" stroke-width="1" fill="none" shape-rendering="crispEdges"/>
<path d="M1113.0 186.5h71.0M1113.0 210.5h71.0M1113.0 224.5h71.0M1113.0 226.5h71.0M1113.0 348.5h71.0M1113.0 350.5h71.0" stroke="#000" stroke-opacity="0.6" stroke-width="1" fill="none" shape-rendering="crispEdges"/>
<path d="M1113.0 94.5h71.0M1113.0 104.5h71.0M1113.0 116.5h71.0M1113.0 119.5h71.0M1113.0 128.5h71.0M1113.0 131.5h71.0M1113.0 144.5h71.0M1113.0 171.5h71.0M1113.0 188.5h71.0M1113.0 193.5h71.0M1113.0 209.5h71.0M1113.0 215.5h71.0M1113.0 216.5h71.0M1113.0 217.5h71.0M1113.0 221.5h71.0M1113.0 228.5h71.0M1113.0 245.5h71.0M1113.0 279.5h71.0M1113.0 304.5h71.0M1113.0 307.5h71.0M1113.0 328.5h71.0" stroke="#000" stroke-opacity="0.7" stroke-width="1" fill="none" shape-rendering="crispEdges"/>
<path d="M1113.0 66.5h71.0M1113.0 67.5h71.0M1113.0 68.5h71.0M1113.0 69.5h71.0M1113.0 80.5h71.0M1113.0 84.5h71.0M1113.0 95.5h71.0M1113.0 100.5h71.0M1113.0 103.5h71.0M1113.0 115.5h71.0M1113.0 118.5h71.0M1113.0 121.5h71.0M1113.0 122.5h71.0M1113.0 123.5h71.0M1113.0 127.5h71.0M1113.0 132.5h71.0M1113.0 145.5h71.0M1113.0 201.5h71.0M1113.0 202.5h71.0M1113.0 203.5h71.0M1113.0 204.5h71.0M1113.0 205.5h71.0M1113.0 220.5h71.0M1113.0 229.5h71.0M1113.0 303.5h71.0M1113.0 330.5h71.0M1113.0 335.5h71.0M1113.0 341.5h71.0M1113.0 343.5h71.0M1113.0 346.5h71.0M1113.0 352.5h71.0" stroke="#000" stroke-opacity="0.8" stroke-width="1" fill="none" shape-rendering="crispEdges"/>
<path d="M1113.0 161.5h71.0M1113.0 162.5h71.0M1113.0 163.5h71.0M1113.0 187.5h71.0M1113.0 197.5h71.0M1113.0 200.5h71.0M1113.0 211.5h71.0M1113.0 259.5h71.0M1113.0 265.5h71.0M1113.0 280.5h71.0M1113.0 284.5h71.0M1113.0 289.5h71.0M1113.0 310.5h71.0M1113.0 311.5h71.0M1113.0 312.5h71.0" stroke="#000" stroke-opacity="0.9" stroke-width="1" fill="none" shape-rendering="crispEdges"/>
<path d="M1113.0 64.5h71.0M1113.0 65.5h71.0M1113.0 70.5h71.0M1113.0 71.5h71.0M1113.0 72.5h71.0M1113.0 78.5h71.0M1113.0 108.5h71.0M1113.0 109.5h71.0M1113.0 110.5h71.0M1113.0 111.5h71.0M1113.0 112.5h71.0M1113.0 165.5h71.0M1113.0 166.5h71.0M1113.0 167.5h71.0M1113.0 168.5h71.0M1113.0 172.5h71.0M1113.0 173.5h71.0M1113.0 174.5h71.0M1113.0 175.5h71.0M1113.0 176.5h71.0M1113.0 177.5h71.0M1113.0 180.5h71.0M1113.0 181.5h71.0M1113.0 182.5h71.0M1113.0 183.5h71.0M1113.0 184.5h71.0M1113.0 189.5h71.0M1113.0 190.5h71.0M1113.0 191.5h71.0M1113.0 192.5h71.0M1113.0 206.5h71.0M1113.0 207.5h71.0M1113.0 208.5h71.0M1113.0 225.5h71.0M1113.0 234.5h71.0M1113.0 235.5h71.0M1113.0 236.5h71.0M1113.0 237.5h71.0M1113.0 238.5h71.0M1113.0 239.5h71.0M1113.0 243.5h71.0M1113.0 244.5h71.0M1113.0 247.5h71.0M1113.0 248.5h71.0M1113.0 249.5h71.0M1113.0 250.5h71.0M1113.0 251.5h71.0M1113.0 252.5h71.0M1113.0 253.5h71.0M1113.0 254.5h71.0M1113.0 255.5h71.0M1113.0 275.5h71.0M1113.0 276.5h71.0M1113.0 290.5h71.0M1113.0 291.5h71.0M1113.0 292.5h71.0M1113.0 293.5h71.0M1113.0 294.5h71.0M1113.0 295.5h71.0M1113.0 296.5h71.0M1113.0 297.5h71.0M1113.0 298.5h71.0M1113.0 299.5h71.0M1113.0 305.5h71.0M1113.0 306.5h71.0M1113.0 313.5h71.0M1113.0 314.5h71.0M1113.0 315.5h71.0M1113.0 316.5h71.0M1113.0 317.5h71.0M1113.0 318.5h71.0M1113.0 319.5h71.0M1113.0 320.5h71.0M1113.0 321.5h71.0M1113.0 322.5h71.0M1113.0 323.5h71.0M1113.0 324.5h71.0M1113.0 325.5h71.0M1113.0 326.5h71.0M1113.0 327.5h71.0M1113.0 349.5h71.0" stroke="#000" stroke-opacity="1.0" stroke-width="1" fill="none" shape-rendering="crispEdges"/>
<path d="M1252.8 94.5h71.0M1252.8 122.5h71.0M1252.8 337.5h71.0M1252.8 410.5h71.0M1252.8 428.5h71.0M1252.8 434.5h71.0M1252.8 449.5h71.0" stroke="#000" stroke-opacity="0.1" stroke-width="1" fill="none" shape-rendering="crispEdges"/>
<path d="M1252.8 63.5h71.0M1252.8 212.5h71.0M1252.8 219.5h71.0M1252.8 270.5h71.0M1252.8 278.5h71.0M1252.8 310.5h71.0M1252.8 432.5h71.0M1252.8 435.5h71.0M1252.8 503.5h71.0M1252.8 538.5h71.0" stroke="#000" stroke-opacity="0.3" stroke-width="1" fill="none" shape-rendering="crispEdges"/>
<path d="M1252.8 86.5h71.0M1252.8 106.5h71.0M1252.8 185.5h71.0M1252.8 186.5h71.0M1252.8 202.5h71.0M1252.8 203.5h71.0M1252.8 205.5h71.0M1252.8 242.5h71.0M1252.8 253.5h71.0M1252.8 265.5h71.0M1252.8 273.5h71.0M1252.8 280.5h71.0M1252.8 286.5h71.0M1252.8 295.5h71.0M1252.8 299.5h71.0M1252.8 300.5h71.0M1252.8 304.5h71.0M1252.8 305.5h71.0M1252.8 321.5h71.0M1252.8 322.5h71.0M1252.8 344.5h71.0M1252.8 347.5h71.0M1252.8 355.5h71.0M1252.8 383.5h71.0M1252.8 412.5h71.0M1252.8 414.5h71.0M1252.8 422.5h71.0" stroke="#000" stroke-opacity="0.4" stroke-width="1" fill="none" shape-rendering="crispEdges"/>
<path d="M1252.8 78.5h71.0M1252.8 80.5h71.0M1252.8 138.5h71.0M1252.8 207.5h71.0M1252.8 208.5h71.0M1252.8 210.5h71.0M1252.8 214.5h71.0M1252.8 254.5h71.0M1252.8 256.5h71.0M1252.8 272.5h71.0M1252.8 275.5h71.0M1252.8 302.5h71.0M1252.8 307.5h71.0M1252.8 309.5h71.0M1252.8 312.5h71.0M1252.8 324.5h71.0M1252.8 326.5h71.0M1252.8 333.5h71.0M1252.8 356.5h71.0M1252.8 425.5h71.0M1252.8 469.5h71.0M1252.8 471.5h71.0M1252.8 493.5h71.0M1252.8 535.5h71.0M1252.8 537.5h71.0M1252.8 540.5h71.0M1252.8 553.5h71.0M1252.8 555.5h71.0" stroke="#000" stroke-opacity="0.5" stroke-width="1" fill="none" shape-rendering="crispEdges"/>
<path d="M1252.8 105.5h71.0M1252.8 260.5h71.0M1252.8 277.5h71.0M1252.8 345.5h71.0M1252.8 419.5h71.0M1252.8 424.5h71.0M1252.8 464.5h71.0M1252.8 466.5h71.0M1252.8 468.5h71.0M1252.8 487.5h71.0M1252.8 491.5h71.0M1252.8 492.5h71.0M1252.8 510.5h71.0M1252.8 522.5h71.0" stroke="#000" stroke-opacity="0.6" stroke-width="1" fill="none" shape-rendering="crispEdges"/>
<path d="M1252.8 95.5h71.0M1252.8 114.5h71.0M1252.8 141.5h71.0M1252.8 147.5h71.0M1252.8 218.5h71.0M1252.8 220.5h71.0M1252.8 269.5h71.0M1252.8 279.5h71.0M1252.8 283.5h71.0M1252.8 327.5h71.0M1252.8 332.5h71.0M1252.8 340.5h71.0M1252.8 351.5h71.0M1252.8 381.5h71.0M1252.8 382.5h71.0M1252.8 415.5h71.0M1252.8 418.5h71.0M1252.8 437.5h71.0M1252.8 439.5h71.0M1252.8 443.5h71.0M1252.8 452.5h71.0M1252.8 456.5h71.0M1252.8 497.5h71.0M1252.8 498.5h71.0M1252.8 499.5h71.0M1252.8 509.5h71.0M1252.8 531.5h71.0M1252.8 548.5h71.0M1252.8 559.5h71.0M1252.8 562.5h71.0M1252.8 565.5h71.0" stroke="#000" stroke-opacity="0.7" stroke-width="1" fill="none" shape-rendering="crispEdges"/>
<path d="M1252.8 64.5h71.0M1252.8 79.5h71.0M1252.8 104.5h71.0M1252.8 107.5h71.0M1252.8 137.5h71.0M1252.8 142.5h71.0M1252.8 204.5h71.0M1252.8 206.5h71.0M1252.8 213.5h71.0M1252.8 257.5h71.0M1252.8 268.5h71.0M1252.8 271.5h71.0M1252.8 274.5h71.0M1252.8 276.5h71.0M1252.8 301.5h71.0M1252.8 303.5h71.0M1252.8 306.5h71.0M1252.8 308.5h71.0M1252.8 311.5h71.0M1252.8 323.5h71.0M1252.8 325.5h71.0M1252.8 376.5h71.0M1252.8 377.5h71.0M1252.8 413.5h71.0M1252.8 420.5h71.0M1252.8 421.5h71.0M1252.8 433.5h71.0M1252.8 436.5h71.0M1252.8 442.5h71.0M1252.8 444.5h71.0M1252.8 451.5h71.0M1252.8 455.5h71.0M1252.8 463.5h71.0M1252.8 521.5h71.0M1252.8 539.5h71.0M1252.8 554.5h71.0" stroke="#000" stroke-opacity="0.8" stroke-width="1" fill="none" shape-rendering="crispEdges"/>
<path d="M1252.8 65.5h71.0M1252.8 66.5h71.0M1252.8 67.5h71.0M1252.8 70.5h71.0M1252.8 71.5h71.0M1252.8 72.5h71.0M1252.8 96.5h71.0M1252.8 115.5h71.0M1252.8 146.5h71.0M1252.8 215.5h71.0M1252.8 216.5h71.0M1252.8 217.5h71.0M1252.8 255.5h71.0M1252.8 258.5h71.0M1252.8 259.5h71.0M1252.8 346.5h71.0M1252.8 348.5h71.0M1252.8 349.5h71.0M1252.8 350.5h71.0M1252.8 352.5h71.0M1252.8 353.5h71.0M1252.8 354.5h71.0M1252.8 375.5h71.0M1252.8 416.5h71.0M1252.8 417.5h71.0M1252.8 423.5h71.0M1252.8 470.5h71.0M1252.8 476.5h71.0M1252.8 477.5h71.0M1252.8 478.5h71.0M1252.8 479.5h71.0M1252.8 485.5h71.0M1252.8 486.5h71.0M1252.8 511.5h71.0M1252.8 512.5h71.0M1252.8 536.5h71.0M1252.8 558.5h71.0" stroke="#000" stroke-opacity="0.9" stroke-width="1" fill="none" shape-rendering="crispEdges"/>
<path d="M1252.8 81.5h71.0M1252.8 82.5h71.0M1252.8 83.5h71.0M1252.8 84.5h71.0M1252.8 85.5h71.0M1252.8 91.5h71.0M1252.8 92.5h71.0M1252.8 93.5h71.0M1252.8 123.5h71.0M1252.8 124.5h71.0M1252.8 125.5h71.0M1252.8 126.5h71.0M1252.8 127.5h71.0M1252.8 128.5h71.0M1252.8 129.5h71.0M1252.8 130.5h71.0M1252.8 131.5h71.0M1252.8 132.5h71.0M1252.8 133.5h71.0M1252.8 134.5h71.0M1252.8 135.5h71.0M1252.8 136.5h71.0M1252.8 139.5h71.0M1252.8 140.5h71.0M1252.8 143.5h71.0M1252.8 144.5h71.0M1252.8 145.5h71.0M1252.8 148.5h71.0M1252.8 149.5h71.0M1252.8 150.5h71.0M1252.8 151.5h71.0M1252.8 152.5h71.0M1252.8 153.5h71.0M1252.8 154.5h71.0M1252.8 155.5h71.0M1252.8 156.5h71.0M1252.8 157.5h71.0M1252.8 158.5h71.0M1252.8 159.5h71.0M1252.8 160.5h71.0M1252.8 161.5h71.0M1252.8 162.5h71.0M1252.8 163.5h71.0M1252.8 164.5h71.0M1252.8 165.5h71.0M1252.8 166.5h71.0M1252.8 167.5h71.0M1252.8 168.5h71.0M1252.8 169.5h71.0M1252.8 170.5h71.0M1252.8 171.5h71.0M1252.8 172.5h71.0M1252.8 173.5h71.0M1252.8 174.5h71.0M1252.8 175.5h71.0M1252.8 176.5h71.0M1252.8 177.5h71.0M1252.8 178.5h71.0M1252.8 179.5h71.0M1252.8 180.5h71.0M1252.8 181.5h71.0M1252.8 182.5h71.0M1252.8 183.5h71.0M1252.8 184.5h71.0M1252.8 187.5h71.0M1252.8 188.5h71.0M1252.8 189.5h71.0M1252.8 190.5h71.0M1252.8 191.5h71.0M1252.8 192.5h71.0M1252.8 193.5h71.0M1252.8 194.5h71.0M1252.8 195.5h71.0M1252.8 196.5h71.0M1252.8 197.5h71.0M1252.8 198.5h71.0M1252.8 199.5h71.0M1252.8 200.5h71.0M1252.8 201.5h71.0M1252.8 209.5h71.0M1252.8 221.5h71.0M1252.8 222.5h71.0M1252.8 223.5h71.0M1252.8 224.5h71.0M1252.8 225.5h71.0M1252.8 226.5h71.0M1252.8 227.5h71.0M1252.8 228.5h71.0M1252.8 229.5h71.0M1252.8 230.5h71.0M1252.8 231.5h71.0M1252.8 232.5h71.0M1252.8 233.5h71.0M1252.8 234.5h71.0M1252.8 235.5h71.0M1252.8 236.5h71.0M1252.8 237.5h71.0M1252.8 238.5h71.0M1252.8 239.5h71.0M1252.8 240.5h71.0M1252.8 241.5h71.0M1252.8 243.5h71.0M1252.8 244.5h71.0M1252.8 245.5h71.0M1252.8 246.5h71.0M1252.8 247.5h71.0M1252.8 248.5h71.0M1252.8 249.5h71.0M1252.8 250.5h71.0M1252.8 251.5h71.0M1252.8 252.5h71.0M1252.8 261.5h71.0M1252.8 262.5h71.0M1252.8 263.5h71.0M1252.8 264.5h71.0M1252.8 281.5h71.0M1252.8 282.5h71.0M1252.8 287.5h71.0M1252.8 288.5h71.0M1252.8 289.5h71.0M1252.8 290.5h71.0M1252.8 291.5h71.0M1252.8 292.5h71.0M1252.8 293.5h71.0M1252.8 294.5h71.0M1252.8 296.5h71.0M1252.8 297.5h71.0M1252.8 298.5h71.0M1252.8 313.5h71.0M1252.8 314.5h71.0M1252.8 315.5h71.0M1252.8 316.5h71.0M1252.8 317.5h71.0M1252.8 318.5h71.0M1252.8 319.5h71.0M1252.8 320.5h71.0M1252.8 328.5h71.0M1252.8 329.5h71.0M1252.8 330.5h71.0M1252.8 331.5h71.0M1252.8 334.5h71.0M1252.8 335.5h71.0M1252.8 336.5h71.0M1252.8 341.5h71.0M1252.8 342.5h71.0M1252.8 343.5h71.0M1252.8 357.5h71.0M1252.8 358.5h71.0M1252.8 359.5h71.0M1252.8 360.5h71.0M1252.8 361.5h71.0M1252.8 362.5h71.0M1252.8 363.5h71.0M1252.8 364.5h71.0M1252.8 365.5h71.0M1252.8 366.5h71.0M1252.8 367.5h71.0M1252.8 368.5h71.0M1252.8 369.5h71.0M1252.8 370.5h71.0M1252.8 371.5h71.0M1252.8 372.5h71.0M1252.8 373.5h71.0M1252.8 374.5h71.0M1252.8 378.5h71.0M1252.8 379.5h71.0M1252.8 380.5h71.0M1252.8 384.5h71.0M1252.8 385.5h71.0M1252.8 386.5h71.0M1252.8 387.5h71.0M1252.8 388.5h71.0M1252.8 389.5h71.0M1252.8 390.5h71.0M1252.8 391.5h71.0M1252.8 392.5h71.0M1252.8 393.5h71.0M1252.8 394.5h71.0M1252.8 395.5h71.0M1252.8 396.5h71.0M1252.8 397.5h71.0M1252.8 398.5h71.0M1252.8 399.5h71.0M1252.8 400.5h71.0M1252.8 401.5h71.0M1252.8 402.5h71.0M1252.8 403.5h71.0M1252.8 404.5h71.0M1252.8 405.5h71.0M1252.8 406.5h71.0M1252.8 407.5h71.0M1252.8 408.5h71.0M1252.8 409.5h71.0M1252.8 426.5h71.0M1252.8 427.5h71.0M1252.8 438.5h71.0M1252.8 445.5h71.0M1252.8 446.5h71.0M1252.8 447.5h71.0M1252.8 448.5h71.0M1252.8 467.5h71.0M1252.8 480.5h71.0M1252.8 481.5h71.0M1252.8 482.5h71.0M1252.8 483.5h71.0M1252.8 484.5h71.0M1252.8 494.5h71.0M1252.8 495.5h71.0M1252.8 496.5h71.0M1252.8 500.5h71.0M1252.8 501.5h71.0M1252.8 502.5h71.0M1252.8 504.5h71.0M1252.8 505.5h71.0M1252.8 506.5h71.0M1252.8 507.5h71.0M1252.8 508.5h71.0M1252.8 513.5h71.0M1252.8 514.5h71.0M1252.8 515.5h71.0M1252.8 516.5h71.0M1252.8 517.5h71.0M1252.8 518.5h71.0M1252.8 519.5h71.0M1252.8 520.5h71.0M1252.8 523.5h71.0M1252.8 524.5h71.0M1252.8 525.5h71.0M1252.8 526.5h71.0M1252.8 527.5h71.0M1252.8 528.5h71.0M1252.8 529.5h71.0M1252.8 530.5h71.0M1252.8 541.5h71.0M1252.8 542.5h71.0M1252.8 543.5h71.0M1252.8 544.5h71.0M1252.8 545.5h71.0M1252.8 546.5h71.0M1252.8 547.5h71.0M1252.8 549.5h71.0M1252.8 550.5h71.0M1252.8 551.5h71.0M1252.8 552.5h71.0M1252.8 563.5h71.0M1252.8 564.5h71.0" stroke="#000" stroke-opacity="1.0" stroke-width="1" fill="none" shape-rendering="crispEdges"/>
<path d="M1392.5 206.5h71.0" stroke="#000" stroke-opacity="0.1" stroke-width="1" fill="none" shape-rendering="crispEdges"/>
<path d="M1392.5 75.5h71.0M1392.5 193.5h71.0M1392.5 295.5h71.0M1392.5 304.5h71.0" stroke="#000" stroke-opacity="0.3" stroke-width="1" fill="none" shape-rendering="crispEdges"/>
<path d="M1392.5 63.5h71.0M1392.5 82.5h71.0M1392.5 115.5h71.0M1392.5 124.5h71.0M1392.5 167.5h71.0M1392.5 169.5h71.0M1392.5 173.5h71.0M1392.5 216.5h71.0M1392.5 234.5h71.0M1392.5 254.5h71.0M1392.5 258.5h71.0M1392.5 271.5h71.0M1392.5 288.5h71.0M1392.5 290.5h71.0M1392.5 308.5h71.0" stroke="#000" stroke-opacity="0.4" stroke-width="1" fill="none" shape-rendering="crispEdges"/>
<path d="M1392.5 120.5h71.0M1392.5 157.5h71.0M1392.5 199.5h71.0M1392.5 283.5h71.0M1392.5 285.5h71.0M1392.5 292.5h71.0M1392.5 294.5h71.0" stroke="#000" stroke-opacity="0.5" stroke-width="1" fill="none" shape-rendering="crispEdges"/>
<path d="M1392.5 68.5h71.0M1392.5 78.5h71.0M1392.5 84.5h71.0M1392.5 94.5h71.0M1392.5 108.5h71.0M1392.5 110.5h71.0M1392.5 134.5h71.0M1392.5 137.5h71.0M1392.5 139.5h71.0M1392.5 159.5h71.0M1392.5 198.5h71.0M1392.5 233.5h71.0M1392.5 237.5h71.0M1392.5 239.5h71.0M1392.5 240.5h71.0M1392.5 245.5h71.0M1392.5 264.5h71.0M1392.5 302.5h71.0" stroke="#000" stroke-opacity="0.6" stroke-width="1" fill="none" shape-rendering="crispEdges"/>
<path d="M1392.5 70.5h71.0M1392.5 71.5h71.0M1392.5 81.5h71.0M1392.5 85.5h71.0M1392.5 93.5h71.0M1392.5 102.5h71.0M1392.5 107.5h71.0M1392.5 114.5h71.0M1392.5 150.5h71.0M1392.5 154.5h71.0M1392.5 185.5h71.0M1392.5 189.5h71.0M1392.5 192.5h71.0M1392.5 201.5h71.0M1392.5 212.5h71.0M1392.5 236.5h71.0M1392.5 246.5h71.0M1392.5 268.5h71.0M1392.5 277.5h71.0M1392.5 281.5h71.0M1392.5 296.5h71.0M1392.5 305.5h71.0" stroke="#000" stroke-opacity="0.7" stroke-width="1" fill="none" shape-rendering="crispEdges"/>
<path d="M1392.5 69.5h71.0M1392.5 76.5h71.0M1392.5 77.5h71.0M1392.5 80.5h71.0M1392.5 83.5h71.0M1392.5 99.5h71.0M1392.5 100.5h71.0M1392.5 101.5h71.0M1392.5 113.5h71.0M1392.5 133.5h71.0M1392.5 151.5h71.0M1392.5 158.5h71.0M1392.5 168.5h71.0M1392.5 175.5h71.0M1392.5 186.5h71.0M1392.5 232.5h71.0M1392.5 235.5h71.0M1392.5 238.5h71.0M1392.5 241.5h71.0M1392.5 263.5h71.0M1392.5 267.5h71.0M1392.5 289.5h71.0M1392.5 297.5h71.0M1392.5 303.5h71.0" stroke="#000" stroke-opacity="0.8" stroke-width="1" fill="none" shape-rendering="crispEdges"/>
<path d="M1392.5 72.5h71.0M1392.5 86.5h71.0M1392.5 87.5h71.0M1392.5 88.5h71.0M1392.5 89.5h71.0M1392.5 90.5h71.0M1392.5 91.5h71.0M1392.5 92.5h71.0M1392.5 95.5h71.0M1392.5 96.5h71.0M1392.5 109.5h71.0M1392.5 143.5h71.0M1392.5 144.5h71.0M1392.5 145.5h71.0M1392.5 146.5h71.0M1392.5 147.5h71.0M1392.5 174.5h71.0M1392.5 200.5h71.0M1392.5 242.5h71.0M1392.5 243.5h71.0M1392.5 244.5h71.0M1392.5 272.5h71.0" stroke="#000" stroke-opacity="0.9" stroke-width="1" fill="none" shape-rendering="crispEdges"/>
<path d="M1392.5 64.5h71.0M1392.5 65.5h71.0M1392.5 66.5h71.0M1392.5 67.5h71.0M1392.5 103.5h71.0M1392.5 104.5h71.0M1392.5 105.5h71.0M1392.5 106.5h71.0M1392.5 116.5h71.0M1392.5 117.5h71.0M1392.5 118.5h71.0M1392.5 119.5h71.0M1392.5 121.5h71.0M1392.5 122.5h71.0M1392.5 123.5h71.0M1392.5 138.5h71.0M1392.5 155.5h71.0M1392.5 156.5h71.0M1392.5 190.5h71.0M1392.5 191.5h71.0M1392.5 194.5h71.0M1392.5 195.5h71.0M1392.5 196.5h71.0M1392.5 197.5h71.0M1392.5 207.5h71.0M1392.5 208.5h71.0M1392.5 209.5h71.0M1392.5 210.5h71.0M1392.5 211.5h71.0M1392.5 213.5h71.0M1392.5 214.5h71.0M1392.5 215.5h71.0M1392.5 247.5h71.0M1392.5 248.5h71.0M1392.5 249.5h71.0M1392.5 250.5h71.0M1392.5 251.5h71.0M1392.5 252.5h71.0M1392.5 253.5h71.0M1392.5 259.5h71.0M1392.5 260.5h71.0M1392.5 261.5h71.0M1392.5 262.5h71.0M1392.5 278.5h71.0M1392.5 279.5h71.0M1392.5 280.5h71.0M1392.5 284.5h71.0M1392.5 293.5h71.0M1392.5 306.5h71.0M1392.5 307.5h71.0" stroke="#000" stroke-opacity="1.0" stroke-width="1" fill="none" shape-rendering="crispEdges"/>
</svg>
</body></html>
